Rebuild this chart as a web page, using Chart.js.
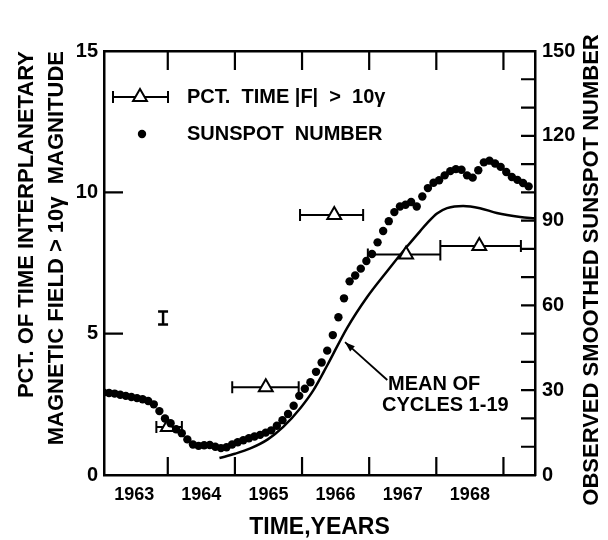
<!DOCTYPE html>
<html><head><meta charset="utf-8">
<script src="https://cdn.jsdelivr.net/npm/chart.js@4.4.1/dist/chart.umd.min.js"></script>
<style>html,body{margin:0;padding:0;background:#fff;}canvas{display:block;}</style>
</head><body>
<canvas id="c" width="608" height="540"></canvas>
<script>
// ---- data ----
// Observed smoothed sunspot number, one value per month starting January 1963
const sunspotFirstYear = 1963;
const sunspotNumber = [29.2,29.0,28.8,28.4,28.0,27.6,27.2,26.8,26.2,25.0,
  22.6,20.0,18.3,16.2,14.8,12.6,10.8,10.3,10.5,10.6,
  10.0,9.5,9.8,10.8,11.6,12.3,13.0,13.6,14.2,15.0,
  15.8,17.4,19.4,21.6,24.5,28.0,30.5,32.8,36.5,39.8,
  44.0,49.5,55.8,62.5,68.5,70.6,73.0,75.7,78.2,82.3,
  86.3,89.8,93.0,95.0,95.6,96.6,95.0,98.5,101.5,103.4,
  104.3,106.0,107.5,108.2,108.0,106.0,105.2,107.8,110.6,111.2,
  110.2,109.0,107.2,105.4,104.4,103.3,102.1];

// Mean of cycles 1-19 (sunspot number)
const meanYears  = [1964.77,1965.00,1965.23,1965.49,1965.72,1965.98,1966.17,1966.38,1966.67,1966.97,1967.27,1967.57,1967.76,1967.86,1968.01,1968.16,1968.40,1968.65,1968.90,1969.25,1969.47];
const meanValues = [6.0,7.5,9.4,12.6,17.0,23.8,30.0,39.0,52.0,63.0,72.2,81.0,86.3,89.0,92.5,94.4,95.2,94.4,92.7,91.3,90.8];

// Pct. time |F| > 10 gamma, with time-interval bars
const pctYear     = [1964.00,1965.46,1966.48,1967.55,1968.64];
const pctYearFrom = [1963.83,1964.96,1965.97,1966.98,1968.06];
const pctYearTo   = [1964.21,1965.95,1966.91,1968.06,1969.26];
const pctTime     = [1.7,3.1,9.2,7.8,8.1];

// typical uncertainty bar
const typicalErrYear = [1963.93];
const typicalErrValue = [5.55];
const typicalErrHalf = [0.23];

// axes / ticks
const yearLabels = [1963.5,1964.5,1965.5,1966.5,1967.5,1968.5];
const yearBoundaries = [1964,1965,1966,1967,1968,1969];
const pctTickMarks = [5,10];
const sunspotTickMarks = [10,20,30,40,50,60,70,80,90,100,110,120,130,140];

const FONT = '"Liberation Sans", Arial, sans-serif';
Chart.defaults.font.family = FONT;
Chart.defaults.font.weight = 'bold';
Chart.defaults.color = '#000';

const framePlugin = {
  id: 'frameTicks',
  beforeDatasetsDraw(chart) {
    const {ctx, chartArea: a, scales} = chart;
    ctx.save();
    ctx.strokeStyle = '#000';
    ctx.lineWidth = 2.2;
    ctx.beginPath();
    yearBoundaries.forEach(v => {
      const px = scales.x.getPixelForValue(v);
      ctx.moveTo(px, a.bottom); ctx.lineTo(px, a.bottom - 18);
      ctx.moveTo(px, a.top); ctx.lineTo(px, a.top + 19);
    });
    pctTickMarks.forEach(v => {
      const py = scales.y.getPixelForValue(v);
      ctx.moveTo(a.left, py); ctx.lineTo(a.left + 19, py);
    });
    sunspotTickMarks.forEach(v => {
      const py = scales.y2.getPixelForValue(v);
      ctx.moveTo(a.right, py); ctx.lineTo(a.right - 14, py);
    });
    ctx.stroke();

    // horizontal time-interval bars
    ctx.lineWidth = 2;
    ctx.beginPath();
    pctTime.forEach((v, i) => {
      const py = scales.y.getPixelForValue(v);
      const x1 = scales.x.getPixelForValue(pctYearFrom[i]);
      const x2 = scales.x.getPixelForValue(pctYearTo[i]);
      ctx.moveTo(x1, py); ctx.lineTo(x2, py);
      ctx.moveTo(x1, py - 6); ctx.lineTo(x1, py + 6);
      ctx.moveTo(x2, py - 6); ctx.lineTo(x2, py + 6);
    });
    ctx.stroke();
    // typical uncertainty
    ctx.lineWidth = 2.5;
    ctx.beginPath();
    typicalErrValue.forEach((v, i) => {
      const px = scales.x.getPixelForValue(typicalErrYear[i]);
      const y1 = scales.y.getPixelForValue(v - typicalErrHalf[i]);
      const y2 = scales.y.getPixelForValue(v + typicalErrHalf[i]);
      ctx.moveTo(px, y1); ctx.lineTo(px, y2);
      ctx.moveTo(px - 5, y1); ctx.lineTo(px + 5, y1);
      ctx.moveTo(px - 5, y2); ctx.lineTo(px + 5, y2);
    });
    ctx.stroke();
    ctx.restore();
  },
  afterDraw(chart) {
    const {ctx, chartArea: a, scales} = chart;
    ctx.save();
    ctx.fillStyle = '#000';
    ctx.strokeStyle = '#000';
    // legend
    const r1 = a.top + 46, r2 = a.top + 83;
    ctx.lineWidth = 2;
    ctx.beginPath();
    ctx.moveTo(a.left + 9, r1); ctx.lineTo(a.left + 64, r1);
    ctx.moveTo(a.left + 9, r1 - 6); ctx.lineTo(a.left + 9, r1 + 6);
    ctx.moveTo(a.left + 64, r1 - 6); ctx.lineTo(a.left + 64, r1 + 6);
    ctx.stroke();
    const tx = a.left + 36, rr = 8;
    ctx.beginPath();
    ctx.moveTo(tx, r1 - rr);
    ctx.lineTo(tx + rr * 0.866, r1 + rr / 2);
    ctx.lineTo(tx - rr * 0.866, r1 + rr / 2);
    ctx.closePath();
    ctx.fillStyle = '#fff'; ctx.fill(); ctx.stroke();
    ctx.fillStyle = '#000';
    ctx.beginPath(); ctx.arc(a.left + 38, r2, 4.2, 0, Math.PI * 2); ctx.fill();
    ctx.font = 'bold 20px ' + FONT;
    ctx.textBaseline = 'middle';
    ctx.textAlign = 'left';
    ctx.fillText('PCT.  TIME |F|  >  10γ', a.left + 83, r1);
    ctx.fillText('SUNSPOT  NUMBER', a.left + 83, r2);

    // annotation with arrow
    const hx = scales.x.getPixelForValue(1966.64), hy = scales.y2.getPixelForValue(47.0);
    const bx = scales.x.getPixelForValue(1967.27), by = scales.y2.getPixelForValue(33.6);
    ctx.lineWidth = 1.8;
    ctx.beginPath(); ctx.moveTo(bx, by); ctx.lineTo(hx, hy); ctx.stroke();
    const ang = Math.atan2(hy - by, hx - bx);
    ctx.beginPath();
    ctx.moveTo(hx, hy);
    ctx.lineTo(hx - 10 * Math.cos(ang) + 3.5 * Math.sin(ang), hy - 10 * Math.sin(ang) - 3.5 * Math.cos(ang));
    ctx.lineTo(hx - 10 * Math.cos(ang) - 3.5 * Math.sin(ang), hy - 10 * Math.sin(ang) + 3.5 * Math.cos(ang));
    ctx.closePath(); ctx.fill();
    ctx.font = 'bold 20px ' + FONT;
    ctx.fillText('MEAN OF', scales.x.getPixelForValue(1967.28), scales.y2.getPixelForValue(32.0));
    ctx.fillText('CYCLES 1-19', scales.x.getPixelForValue(1967.19), scales.y2.getPixelForValue(24.6));

    // right axis title (reads bottom to top)
    ctx.font = 'bold 22px ' + FONT;
    ctx.textAlign = 'center';
    ctx.translate(a.right + 57, 270);
    ctx.rotate(-Math.PI / 2);
    ctx.fillText('OBSERVED SMOOTHED SUNSPOT NUMBER', 0, 0);
    ctx.restore();
  }
};

new Chart(document.getElementById('c'), {
  type: 'scatter',
  data: {
    datasets: [
      {
        label: 'SUNSPOT NUMBER',
        data: sunspotNumber.map((v, i) => ({x: sunspotFirstYear + (i + 0.5) / 12, y: v})),
        yAxisID: 'y2',
        pointRadius: 4.2,
        pointBackgroundColor: '#000',
        pointBorderWidth: 0,
        order: 0
      },
      {
        label: 'PCT. TIME |F| > 10γ',
        data: pctTime.map((v, i) => ({x: pctYear[i], y: v})),
        yAxisID: 'y',
        pointStyle: 'triangle',
        pointRadius: 8,
        pointBorderColor: '#000',
        pointBackgroundColor: '#fff',
        pointBorderWidth: 2,
        order: 1
      },
      {
        label: 'MEAN OF CYCLES 1-19',
        data: meanValues.map((v, i) => ({x: meanYears[i], y: v})),
        yAxisID: 'y2',
        showLine: true,
        borderColor: '#000',
        borderWidth: 2.5,
        pointRadius: 0,
        cubicInterpolationMode: 'monotone',
        order: 2
      }
    ]
  },
  options: {
    responsive: false,
    animation: false,
    devicePixelRatio: 1,
    layout: {padding: {top: 51, left: 0, right: 0, bottom: 0}},
    plugins: {legend: {display: false}, tooltip: {enabled: false}},
    scales: {
      x: {
        type: 'linear', position: 'bottom', min: 1963.05, max: 1969.47,
        afterBuildTicks: s => { s.ticks = yearLabels.map(v => ({value: v})); },
        afterFit: s => { s.height = 65; },
        grid: {display: false, drawTicks: false},
        border: {display: true, color: '#000', width: 2.5},
        ticks: {autoSkip: false, maxRotation: 0, padding: 9, font: {size: 18, weight: 'bold'},
                callback: v => String(Math.floor(v))},
        title: {display: true, text: 'TIME,YEARS', font: {size: 23, weight: 'bold', lineHeight: 1}, padding: {top: 0, bottom: 0.5}}
      },
      x2: {
        type: 'linear', position: 'top', min: 1963.05, max: 1969.47,
        afterFit: s => { s.height = 0; },
        grid: {display: false, drawTicks: false},
        border: {display: true, color: '#000', width: 2.5},
        ticks: {display: false}
      },
      y: {
        type: 'linear', position: 'left', min: 0, max: 15,
        afterFit: s => { s.width = 104; },
        grid: {display: false, drawTicks: false},
        border: {display: true, color: '#000', width: 2.5},
        ticks: {stepSize: 5, padding: 6, font: {size: 20, weight: 'bold'}},
        title: {display: true, align: 'end',
                text: ['PCT. OF TIME INTERPLANETARY', 'MAGNETIC FIELD > 10γ  MAGNITUDE'],
                font: {size: 22, weight: 'bold', lineHeight: 30 / 22}, padding: {top: 12, bottom: 0}}
      },
      y2: {
        type: 'linear', position: 'right', min: 0, max: 150,
        afterFit: s => { s.width = 73; },
        grid: {display: false, drawTicks: false},
        border: {display: true, color: '#000', width: 2.5},
        ticks: {stepSize: 30, padding: 7, font: {size: 20, weight: 'bold'}}
      }
    }
  },
  plugins: [framePlugin]
});
</script>
</body></html>
